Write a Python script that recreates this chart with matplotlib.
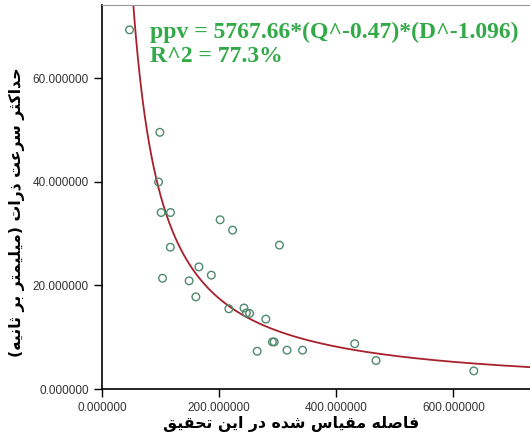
import matplotlib
matplotlib.use("Agg")
import matplotlib.pyplot as plt
import numpy as np

# ---- data ----
distance = [47, 98.8, 96.6, 101, 117, 201.7, 223, 303, 116.7, 165.5, 186.7, 103.4,
            148.8, 160.3, 216.7, 242.5, 246.6, 252, 279.8, 291, 294, 265, 316,
            342.5, 431.6, 468, 635]
ppv = [69.4, 49.6, 40.0, 34.1, 34.1, 32.7, 30.7, 27.8, 27.4, 23.6, 22.0, 21.4,
       20.9, 17.8, 15.5, 15.65, 14.7, 14.6, 13.5, 9.1, 9.1, 7.3, 7.5,
       7.5, 8.75, 5.5, 3.5]
fit_a = 5818.0
fit_b = -1.096
x_ticks = [0, 200, 400, 600]
y_ticks = [0, 20, 40, 60]
eq_line1 = "ppv = 5767.66*(Q^-0.47)*(D^-1.096)"
eq_line2 = "R^2 = 77.3%"
ylabel_text = "حداکثر سرعت ذرات (میلیمتر بر ثانیه)"
xlabel_text = "فاصله مقیاس شده در این تحقیق"

# ---- minimal Arabic/Persian shaping (presentation forms) ----
FORMS = {  # iso, fin, ini, med
    'ا': (0xFE8D, 0xFE8E, None, None),
    'ب': (0xFE8F, 0xFE90, 0xFE91, 0xFE92),
    'ت': (0xFE95, 0xFE96, 0xFE97, 0xFE98),
    'ث': (0xFE99, 0xFE9A, 0xFE9B, 0xFE9C),
    'ح': (0xFEA1, 0xFEA2, 0xFEA3, 0xFEA4),
    'د': (0xFEA9, 0xFEAA, None, None),
    'ذ': (0xFEAB, 0xFEAC, None, None),
    'ر': (0xFEAD, 0xFEAE, None, None),
    'س': (0xFEB1, 0xFEB2, 0xFEB3, 0xFEB4),
    'ش': (0xFEB5, 0xFEB6, 0xFEB7, 0xFEB8),
    'ص': (0xFEB9, 0xFEBA, 0xFEBB, 0xFEBC),
    'ع': (0xFEC9, 0xFECA, 0xFECB, 0xFECC),
    'ف': (0xFED1, 0xFED2, 0xFED3, 0xFED4),
    'ق': (0xFED5, 0xFED6, 0xFED7, 0xFED8),
    'ل': (0xFEDD, 0xFEDE, 0xFEDF, 0xFEE0),
    'م': (0xFEE1, 0xFEE2, 0xFEE3, 0xFEE4),
    'ن': (0xFEE5, 0xFEE6, 0xFEE7, 0xFEE8),
    'ه': (0xFEE9, 0xFEEA, 0xFEEB, 0xFEEC),
    'ک': (0xFB8E, 0xFB8F, 0xFB90, 0xFB91),
    'ی': (0xFBFC, 0xFBFD, 0xFBFE, 0xFBFF),
}


def shape(text):
    out = []
    n = len(text)
    for i, ch in enumerate(text):
        if ch not in FORMS:
            out.append(ch)
            continue
        iso, fin, ini, med = FORMS[ch]
        prev = text[i - 1] if i > 0 else ''
        nxt = text[i + 1] if i + 1 < n else ''
        join_prev = prev in FORMS and FORMS[prev][2] is not None
        join_next = nxt in FORMS and ini is not None
        if join_prev and join_next:
            cp = med
        elif join_prev:
            cp = fin
        elif join_next:
            cp = ini
        else:
            cp = iso
        out.append(chr(cp))
    vis = ''.join(reversed(out))
    vis = vis.translate(str.maketrans({'(': ')', ')': '('}))
    return vis


fig = plt.figure(figsize=(5.30, 4.38), dpi=100)
ax = fig.add_axes([102 / 530, 1 - 389 / 438, 1 - 102 / 530 + 0.01, (389 - 5) / 438])

ax.scatter(distance, ppv, s=30, facecolors='none', edgecolors='#4f8a6c', linewidths=1.0, zorder=3)
xs = np.linspace(20, 800, 800)
ax.plot(xs, fit_a * xs ** fit_b, color='#a8202c', lw=1.3, zorder=2)

ax.set_xlim(0, 740)
ax.set_ylim(0, 74.2)
ax.set_xticks(x_ticks)
ax.set_yticks(y_ticks)
ax.set_xticklabels([f"{v:.6f}" for v in x_ticks])
ax.set_yticklabels([f"{v:.6f}" for v in y_ticks])
ax.tick_params(direction='out', length=6, width=1, colors='black', labelcolor='#333333',
               labelsize=8.5)
for lab in ax.get_xticklabels() + ax.get_yticklabels():
    lab.set_family('Liberation Sans')
ax.spines['left'].set_linewidth(1.2)
ax.spines['bottom'].set_linewidth(1.2)
ax.spines['top'].set_color('#999999')
ax.spines['top'].set_linewidth(0.8)
ax.spines['right'].set_visible(False)

fig.text(17 / 530, 1 - 212 / 438, shape(ylabel_text), family='DejaVu Sans', fontsize=11.3,
         fontweight='bold', rotation=90, ha='center', va='center')
fig.text(291 / 530, 1 - 424 / 438, shape(xlabel_text), family='DejaVu Sans', fontsize=11.3,
         fontweight='bold', ha='center', va='center')

fig.text(150 / 530, 1 - 38 / 438, eq_line1, family='Liberation Serif', fontweight='bold',
         fontsize=17, color='#33aa48', ha='left', va='baseline')
fig.text(150 / 530, 1 - 62 / 438, eq_line2, family='Liberation Serif', fontweight='bold',
         fontsize=17, color='#33aa48', ha='left', va='baseline')

fig.savefig('out.png', dpi=100)
